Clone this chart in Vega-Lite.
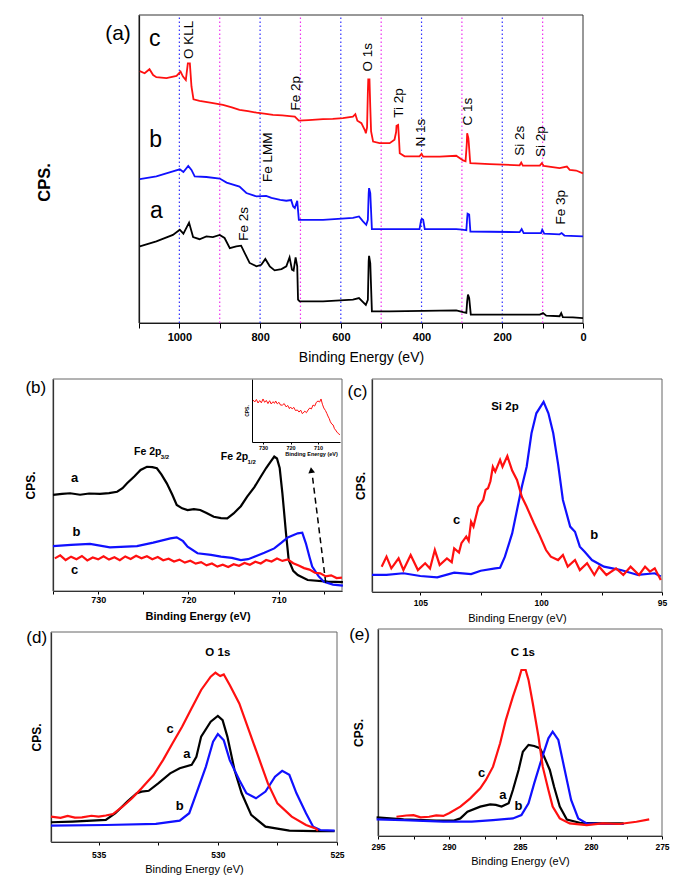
{
"$schema": "https://vega.github.io/schema/vega-lite/v6.json",
"width": 685,
"height": 877,
"autosize": {"type": "none"},
"padding": 0,
"background": "white",
"config": {
  "font": "Liberation Sans",
  "view": {"stroke": null},
  "axis": {"domainColor": "#000000", "tickColor": "#000000", "labelColor": "#000000", "titleColor": "#000000", "grid": false, "domainWidth": 1.2, "labelOverlap": false, "labelFlush": false}
},
"datasets": {
  "A": [
    {"s":"c","e":1098,"v":81.8},{"s":"c","e":1086,"v":81.1},{"s":"c","e":1074,"v":82.4},{"s":"c","e":1065,"v":80.5},{"s":"c","e":1057,"v":79.8},{"s":"c","e":1032,"v":79.5},{"s":"c","e":1007,"v":80.2},{"s":"c","e":997,"v":81.6},{"s":"c","e":991,"v":80.0},{"s":"c","e":984,"v":78.9},{"s":"c","e":979,"v":84.3},{"s":"c","e":974,"v":84.3},{"s":"c","e":970,"v":76.8},{"s":"c","e":965,"v":72.6},{"s":"c","e":950,"v":72.1},{"s":"c","e":920,"v":71.5},{"s":"c","e":892,"v":70.8},{"s":"c","e":870,"v":70.0},{"s":"c","e":851,"v":69.2},{"s":"c","e":830,"v":68.8},{"s":"c","e":809,"v":68.3},{"s":"c","e":790,"v":68.0},{"s":"c","e":768,"v":67.6},{"s":"c","e":745,"v":67.4},{"s":"c","e":727,"v":67.2},{"s":"c","e":714,"v":67.0},{"s":"c","e":704,"v":65.7},{"s":"c","e":680,"v":65.9},{"s":"c","e":644,"v":66.2},{"s":"c","e":620,"v":66.3},{"s":"c","e":595,"v":66.5},{"s":"c","e":570,"v":67.0},{"s":"c","e":564,"v":67.8},{"s":"c","e":559,"v":65.7},{"s":"c","e":549,"v":64.9},{"s":"c","e":540,"v":62.5},{"s":"c","e":538,"v":61.6},{"s":"c","e":535,"v":63.5},{"s":"c","e":533,"v":75.0},{"s":"c","e":532,"v":79.1},{"s":"c","e":529,"v":79.1},{"s":"c","e":527,"v":70.0},{"s":"c","e":525,"v":62.2},{"s":"c","e":520,"v":58.9},{"s":"c","e":504,"v":58.4},{"s":"c","e":479,"v":58.4},{"s":"c","e":467,"v":59.5},{"s":"c","e":463,"v":62.0},{"s":"c","e":462,"v":64.0},{"s":"c","e":458,"v":64.3},{"s":"c","e":456,"v":60.0},{"s":"c","e":454,"v":55.1},{"s":"c","e":442,"v":54.1},{"s":"c","e":405,"v":54.1},{"s":"c","e":400,"v":54.9},{"s":"c","e":396,"v":54.0},{"s":"c","e":355,"v":54.0},{"s":"c","e":314,"v":54.3},{"s":"c","e":297,"v":52.8},{"s":"c","e":291,"v":52.5},{"s":"c","e":288,"v":58.0},{"s":"c","e":287,"v":61.6},{"s":"c","e":284,"v":60.0},{"s":"c","e":283,"v":58.5},{"s":"c","e":280,"v":53.0},{"s":"c","e":279,"v":51.9},{"s":"c","e":231,"v":51.6},{"s":"c","e":157,"v":51.2},{"s":"c","e":153,"v":52.1},{"s":"c","e":149,"v":51.1},{"s":"c","e":107,"v":51.1},{"s":"c","e":102,"v":51.9},{"s":"c","e":97,"v":51.0},{"s":"c","e":58,"v":50.3},{"s":"c","e":40,"v":50.8},{"s":"c","e":33,"v":49.7},{"s":"c","e":17,"v":49.5},{"s":"c","e":0,"v":48.6},
    {"s":"b","e":1098,"v":46.7},{"s":"b","e":1057,"v":47.6},{"s":"b","e":1016,"v":49.2},{"s":"b","e":999,"v":49.9},{"s":"b","e":990,"v":49.0},{"s":"b","e":978,"v":51.0},{"s":"b","e":970,"v":49.7},{"s":"b","e":962,"v":47.6},{"s":"b","e":933,"v":47.4},{"s":"b","e":900,"v":46.9},{"s":"b","e":883,"v":45.6},{"s":"b","e":851,"v":44.3},{"s":"b","e":834,"v":42.2},{"s":"b","e":809,"v":41.1},{"s":"b","e":785,"v":41.3},{"s":"b","e":772,"v":40.6},{"s":"b","e":750,"v":40.0},{"s":"b","e":735,"v":39.7},{"s":"b","e":723,"v":39.9},{"s":"b","e":718,"v":37.8},{"s":"b","e":714,"v":37.3},{"s":"b","e":708,"v":39.7},{"s":"b","e":704,"v":33.5},{"s":"b","e":644,"v":33.5},{"s":"b","e":570,"v":34.1},{"s":"b","e":555,"v":34.6},{"s":"b","e":545,"v":33.0},{"s":"b","e":537,"v":31.9},{"s":"b","e":533,"v":33.5},{"s":"b","e":531,"v":42.0},{"s":"b","e":530,"v":43.8},{"s":"b","e":527,"v":42.2},{"s":"b","e":523,"v":30.5},{"s":"b","e":479,"v":30.5},{"s":"b","e":405,"v":30.5},{"s":"b","e":401,"v":33.5},{"s":"b","e":399,"v":33.8},{"s":"b","e":396,"v":33.5},{"s":"b","e":392,"v":30.5},{"s":"b","e":314,"v":30.5},{"s":"b","e":299,"v":30.3},{"s":"b","e":289,"v":30.1},{"s":"b","e":287,"v":34.0},{"s":"b","e":286,"v":35.5},{"s":"b","e":282,"v":35.2},{"s":"b","e":279,"v":29.7},{"s":"b","e":157,"v":29.5},{"s":"b","e":152,"v":30.5},{"s":"b","e":147,"v":29.2},{"s":"b","e":104,"v":29.2},{"s":"b","e":101,"v":30.3},{"s":"b","e":96,"v":29.0},{"s":"b","e":58,"v":28.8},{"s":"b","e":53,"v":29.2},{"s":"b","e":46,"v":28.4},{"s":"b","e":0,"v":28.1},
    {"s":"a","e":1098,"v":24.9},{"s":"a","e":1057,"v":26.5},{"s":"a","e":1016,"v":28.6},{"s":"a","e":999,"v":30.3},{"s":"a","e":990,"v":29.0},{"s":"a","e":976,"v":32.6},{"s":"a","e":966,"v":27.9},{"s":"a","e":950,"v":27.2},{"s":"a","e":933,"v":28.1},{"s":"a","e":917,"v":27.9},{"s":"a","e":900,"v":28.6},{"s":"a","e":888,"v":27.6},{"s":"a","e":875,"v":24.3},{"s":"a","e":859,"v":24.9},{"s":"a","e":847,"v":25.1},{"s":"a","e":838,"v":22.7},{"s":"a","e":826,"v":19.5},{"s":"a","e":809,"v":18.4},{"s":"a","e":797,"v":18.9},{"s":"a","e":787,"v":20.8},{"s":"a","e":776,"v":18.4},{"s":"a","e":764,"v":17.1},{"s":"a","e":747,"v":17.5},{"s":"a","e":735,"v":18.4},{"s":"a","e":727,"v":21.3},{"s":"a","e":721,"v":17.3},{"s":"a","e":717,"v":17.0},{"s":"a","e":712,"v":21.3},{"s":"a","e":708,"v":18.4},{"s":"a","e":706,"v":7.6},{"s":"a","e":702,"v":7.0},{"s":"a","e":644,"v":7.0},{"s":"a","e":570,"v":7.6},{"s":"a","e":555,"v":8.1},{"s":"a","e":538,"v":5.9},{"s":"a","e":533,"v":7.5},{"s":"a","e":531,"v":20.0},{"s":"a","e":530,"v":21.8},{"s":"a","e":527,"v":19.4},{"s":"a","e":523,"v":3.8},{"s":"a","e":479,"v":3.8},{"s":"a","e":314,"v":4.1},{"s":"a","e":297,"v":3.5},{"s":"a","e":289,"v":3.3},{"s":"a","e":287,"v":7.0},{"s":"a","e":285,"v":9.2},{"s":"a","e":282,"v":8.1},{"s":"a","e":278,"v":2.7},{"s":"a","e":107,"v":2.7},{"s":"a","e":99,"v":3.2},{"s":"a","e":91,"v":2.4},{"s":"a","e":58,"v":2.2},{"s":"a","e":54,"v":3.2},{"s":"a","e":50,"v":1.9},{"s":"a","e":25,"v":1.8},{"s":"a","e":0,"v":1.6}
  ],
  "B": [
    {"s":"a","e":735.0,"v":45.3},{"s":"a","e":734.0,"v":45.8},{"s":"a","e":733.1,"v":46.1},{"s":"a","e":732.0,"v":45.4},{"s":"a","e":731.0,"v":46.0},{"s":"a","e":729.8,"v":45.8},{"s":"a","e":728.8,"v":46.2},{"s":"a","e":727.9,"v":46.8},{"s":"a","e":727.3,"v":48.5},{"s":"a","e":726.8,"v":50.8},{"s":"a","e":726.0,"v":54.0},{"s":"a","e":725.3,"v":57.1},{"s":"a","e":724.6,"v":58.6},{"s":"a","e":724.0,"v":58.4},{"s":"a","e":723.5,"v":57.9},{"s":"a","e":723.0,"v":55.0},{"s":"a","e":722.4,"v":50.8},{"s":"a","e":721.8,"v":45.5},{"s":"a","e":721.3,"v":40.6},{"s":"a","e":720.7,"v":39.0},{"s":"a","e":720.1,"v":38.2},{"s":"a","e":719.4,"v":38.6},{"s":"a","e":718.7,"v":38.2},{"s":"a","e":718.0,"v":36.8},{"s":"a","e":717.2,"v":35.0},{"s":"a","e":716.4,"v":34.4},{"s":"a","e":715.7,"v":34.3},{"s":"a","e":715.0,"v":36.6},{"s":"a","e":714.2,"v":40.0},{"s":"a","e":713.5,"v":44.5},{"s":"a","e":712.7,"v":49.0},{"s":"a","e":712.0,"v":53.9},{"s":"a","e":711.4,"v":58.0},{"s":"a","e":710.9,"v":61.0},{"s":"a","e":710.5,"v":63.4},{"s":"a","e":710.2,"v":62.5},{"s":"a","e":709.9,"v":58.0},{"s":"a","e":709.6,"v":46.1},{"s":"a","e":709.2,"v":27.2},{"s":"a","e":708.9,"v":14.6},{"s":"a","e":708.4,"v":9.5},{"s":"a","e":707.9,"v":7.5},{"s":"a","e":706.8,"v":5.2},{"s":"a","e":704.6,"v":4.4},{"s":"a","e":702.9,"v":4.2},
    {"s":"b","e":735.0,"v":21.2},{"s":"b","e":733.0,"v":21.8},{"s":"b","e":730.9,"v":22.2},{"s":"b","e":728.7,"v":20.6},{"s":"b","e":725.7,"v":21.2},{"s":"b","e":723.9,"v":22.8},{"s":"b","e":722.0,"v":24.8},{"s":"b","e":721.3,"v":25.3},{"s":"b","e":720.6,"v":23.5},{"s":"b","e":720.1,"v":20.9},{"s":"b","e":719.0,"v":17.8},{"s":"b","e":717.5,"v":17.0},{"s":"b","e":716.4,"v":16.2},{"s":"b","e":715.2,"v":15.6},{"s":"b","e":714.2,"v":14.6},{"s":"b","e":713.4,"v":15.0},{"s":"b","e":712.7,"v":16.2},{"s":"b","e":711.6,"v":18.0},{"s":"b","e":710.5,"v":20.1},{"s":"b","e":709.7,"v":22.8},{"s":"b","e":709.0,"v":25.3},{"s":"b","e":707.9,"v":27.2},{"s":"b","e":707.4,"v":27.5},{"s":"b","e":707.0,"v":22.5},{"s":"b","e":706.6,"v":16.0},{"s":"b","e":706.3,"v":11.5},{"s":"b","e":705.6,"v":7.0},{"s":"b","e":705.0,"v":4.4},{"s":"b","e":704.0,"v":3.0},{"s":"b","e":702.9,"v":2.5},
    {"s":"c","e":734.8,"v":15.4},{"s":"c","e":734.2,"v":16.8},{"s":"c","e":733.6,"v":14.6},{"s":"c","e":733.0,"v":16.2},{"s":"c","e":732.4,"v":15.0},{"s":"c","e":731.8,"v":16.5},{"s":"c","e":731.2,"v":14.4},{"s":"c","e":730.6,"v":15.8},{"s":"c","e":730.0,"v":14.9},{"s":"c","e":729.4,"v":16.4},{"s":"c","e":728.8,"v":14.8},{"s":"c","e":728.2,"v":15.9},{"s":"c","e":727.6,"v":14.5},{"s":"c","e":727.0,"v":16.3},{"s":"c","e":726.4,"v":15.1},{"s":"c","e":725.8,"v":16.6},{"s":"c","e":725.2,"v":15.4},{"s":"c","e":724.6,"v":16.4},{"s":"c","e":724.0,"v":15.0},{"s":"c","e":723.4,"v":16.0},{"s":"c","e":722.8,"v":14.5},{"s":"c","e":722.2,"v":15.2},{"s":"c","e":721.6,"v":13.9},{"s":"c","e":721.0,"v":14.8},{"s":"c","e":720.4,"v":13.4},{"s":"c","e":719.8,"v":14.3},{"s":"c","e":719.2,"v":12.9},{"s":"c","e":718.6,"v":13.6},{"s":"c","e":718.0,"v":12.1},{"s":"c","e":717.4,"v":13.0},{"s":"c","e":716.8,"v":11.5},{"s":"c","e":716.2,"v":12.4},{"s":"c","e":715.6,"v":11.3},{"s":"c","e":715.0,"v":12.6},{"s":"c","e":714.4,"v":11.9},{"s":"c","e":713.8,"v":13.2},{"s":"c","e":713.2,"v":12.4},{"s":"c","e":712.6,"v":13.8},{"s":"c","e":712.0,"v":13.0},{"s":"c","e":711.4,"v":14.6},{"s":"c","e":710.8,"v":13.9},{"s":"c","e":710.2,"v":15.3},{"s":"c","e":709.6,"v":14.2},{"s":"c","e":709.0,"v":14.9},{"s":"c","e":708.4,"v":13.1},{"s":"c","e":707.8,"v":12.0},{"s":"c","e":707.2,"v":10.8},{"s":"c","e":706.6,"v":10.1},{"s":"c","e":706.0,"v":8.6},{"s":"c","e":705.4,"v":8.3},{"s":"c","e":704.8,"v":6.9},{"s":"c","e":704.2,"v":7.4},{"s":"c","e":703.6,"v":6.1},{"s":"c","e":703.0,"v":6.3}
  ],
  "Binset": [
    {"ie":733.6,"iv":66.7},{"ie":733.0,"iv":63.5},{"ie":732.4,"iv":67.5},{"ie":731.8,"iv":61.9},{"ie":731.2,"iv":65.8},{"ie":730.6,"iv":62.2},{"ie":730.0,"iv":68.3},{"ie":729.4,"iv":63.0},{"ie":728.8,"iv":66.0},{"ie":728.2,"iv":61.0},{"ie":727.6,"iv":65.5},{"ie":727.0,"iv":60.3},{"ie":726.4,"iv":64.0},{"ie":725.8,"iv":61.5},{"ie":725.4,"iv":65.1},{"ie":724.8,"iv":60.5},{"ie":724.2,"iv":63.0},{"ie":723.6,"iv":58.5},{"ie":722.9,"iv":58.7},{"ie":722.3,"iv":61.0},{"ie":721.6,"iv":55.8},{"ie":721.0,"iv":58.0},{"ie":720.4,"iv":53.0},{"ie":720.0,"iv":55.6},{"ie":719.4,"iv":52.5},{"ie":718.8,"iv":55.0},{"ie":718.2,"iv":50.0},{"ie":717.5,"iv":50.8},{"ie":716.9,"iv":47.5},{"ie":716.3,"iv":50.5},{"ie":715.7,"iv":45.0},{"ie":715.4,"iv":46.0},{"ie":714.8,"iv":49.0},{"ie":714.2,"iv":46.5},{"ie":713.6,"iv":50.8},{"ie":713.0,"iv":54.0},{"ie":712.4,"iv":52.5},{"ie":711.8,"iv":58.7},{"ie":711.2,"iv":57.0},{"ie":710.6,"iv":63.0},{"ie":710.0,"iv":65.1},{"ie":709.4,"iv":63.5},{"ie":708.9,"iv":68.3},{"ie":708.4,"iv":60.0},{"ie":707.9,"iv":54.0},{"ie":707.3,"iv":50.0},{"ie":706.8,"iv":45.5},{"ie":706.4,"iv":41.3},{"ie":705.9,"iv":37.0},{"ie":705.5,"iv":32.0},{"ie":705.0,"iv":28.6},{"ie":704.5,"iv":27.0},{"ie":704.0,"iv":21.0},{"ie":703.6,"iv":19.0},{"ie":703.0,"iv":15.0},{"ie":702.5,"iv":13.5},{"ie":702.1,"iv":11.1}
  ],
  "C": [
    {"s":"b","e":107.0,"v":8.0},{"s":"b","e":106.4,"v":8.0},{"s":"b","e":105.7,"v":8.8},{"s":"b","e":105.0,"v":7.5},{"s":"b","e":104.3,"v":6.9},{"s":"b","e":103.6,"v":9.1},{"s":"b","e":102.9,"v":8.4},{"s":"b","e":102.5,"v":10.0},{"s":"b","e":101.9,"v":11.1},{"s":"b","e":101.7,"v":11.4},{"s":"b","e":101.5,"v":16.6},{"s":"b","e":101.2,"v":27.5},{"s":"b","e":101.0,"v":38.5},{"s":"b","e":100.8,"v":49.4},{"s":"b","e":100.6,"v":58.8},{"s":"b","e":100.4,"v":74.5},{"s":"b","e":100.2,"v":83.9},{"s":"b","e":99.9,"v":89.3},{"s":"b","e":99.7,"v":83.9},{"s":"b","e":99.5,"v":74.5},{"s":"b","e":99.3,"v":60.0},{"s":"b","e":99.1,"v":43.2},{"s":"b","e":98.8,"v":30.7},{"s":"b","e":98.6,"v":28.3},{"s":"b","e":98.4,"v":21.3},{"s":"b","e":98.2,"v":18.9},{"s":"b","e":97.9,"v":15.0},{"s":"b","e":97.4,"v":11.9},{"s":"b","e":96.7,"v":10.3},{"s":"b","e":96.0,"v":8.0},{"s":"b","e":95.3,"v":8.8},{"s":"b","e":95.05,"v":7.3},
    {"s":"c","e":106.6,"v":11.9},{"s":"c","e":106.4,"v":16.6},{"s":"c","e":106.2,"v":11.1},{"s":"c","e":105.9,"v":15.8},{"s":"c","e":105.7,"v":10.3},{"s":"c","e":105.4,"v":17.4},{"s":"c","e":105.1,"v":10.3},{"s":"c","e":104.8,"v":13.5},{"s":"c","e":104.6,"v":11.0},{"s":"c","e":104.4,"v":19.7},{"s":"c","e":104.2,"v":12.7},{"s":"c","e":103.9,"v":15.8},{"s":"c","e":103.7,"v":14.0},{"s":"c","e":103.6,"v":20.5},{"s":"c","e":103.4,"v":18.5},{"s":"c","e":103.3,"v":22.9},{"s":"c","e":103.1,"v":26.0},{"s":"c","e":103.0,"v":24.0},{"s":"c","e":102.9,"v":33.0},{"s":"c","e":102.8,"v":30.7},{"s":"c","e":102.6,"v":40.0},{"s":"c","e":102.4,"v":43.2},{"s":"c","e":102.3,"v":47.9},{"s":"c","e":102.2,"v":48.7},{"s":"c","e":102.1,"v":52.0},{"s":"c","e":102.0,"v":58.8},{"s":"c","e":101.9,"v":56.5},{"s":"c","e":101.7,"v":62.0},{"s":"c","e":101.6,"v":58.8},{"s":"c","e":101.4,"v":63.8},{"s":"c","e":101.3,"v":60.4},{"s":"c","e":101.2,"v":57.0},{"s":"c","e":101.0,"v":52.6},{"s":"c","e":100.8,"v":44.7},{"s":"c","e":100.6,"v":40.0},{"s":"c","e":100.3,"v":32.3},{"s":"c","e":100.1,"v":27.5},{"s":"c","e":99.8,"v":19.7},{"s":"c","e":99.6,"v":16.6},{"s":"c","e":99.3,"v":15.0},{"s":"c","e":99.1,"v":17.4},{"s":"c","e":98.9,"v":11.9},{"s":"c","e":98.6,"v":15.0},{"s":"c","e":98.4,"v":10.3},{"s":"c","e":98.1,"v":13.5},{"s":"c","e":97.8,"v":8.0},{"s":"c","e":97.6,"v":11.9},{"s":"c","e":97.3,"v":8.0},{"s":"c","e":96.9,"v":11.1},{"s":"c","e":96.6,"v":8.0},{"s":"c","e":96.3,"v":11.9},{"s":"c","e":95.95,"v":8.0},{"s":"c","e":95.7,"v":11.9},{"s":"c","e":95.5,"v":9.6},{"s":"c","e":95.3,"v":11.1},{"s":"c","e":95.05,"v":5.6}
  ],
  "D": [
    {"s":"a","e":537.0,"v":9.4},{"s":"a","e":536.1,"v":9.7},{"s":"a","e":534.7,"v":10.5},{"s":"a","e":534.3,"v":13.7},{"s":"a","e":533.8,"v":19.2},{"s":"a","e":533.4,"v":23.2},{"s":"a","e":533.2,"v":24.0},{"s":"a","e":532.9,"v":24.4},{"s":"a","e":532.5,"v":27.9},{"s":"a","e":532.0,"v":32.7},{"s":"a","e":531.6,"v":35.1},{"s":"a","e":531.1,"v":36.7},{"s":"a","e":530.9,"v":40.6},{"s":"a","e":530.7,"v":50.2},{"s":"a","e":530.3,"v":57.3},{"s":"a","e":530.0,"v":60.0},{"s":"a","e":529.8,"v":58.0},{"s":"a","e":529.6,"v":50.2},{"s":"a","e":529.3,"v":34.3},{"s":"a","e":529.0,"v":23.2},{"s":"a","e":528.6,"v":12.9},{"s":"a","e":528.0,"v":7.3},{"s":"a","e":527.0,"v":5.4},{"s":"a","e":525.9,"v":5.2},{"s":"a","e":525.1,"v":5.2},
    {"s":"b","e":537.0,"v":7.8},{"s":"b","e":534.7,"v":8.1},{"s":"b","e":532.6,"v":8.6},{"s":"b","e":531.6,"v":10.2},{"s":"b","e":531.2,"v":13.7},{"s":"b","e":530.9,"v":23.2},{"s":"b","e":530.5,"v":35.9},{"s":"b","e":530.2,"v":47.8},{"s":"b","e":530.0,"v":51.4},{"s":"b","e":529.75,"v":48.4},{"s":"b","e":529.5,"v":39.0},{"s":"b","e":529.1,"v":29.5},{"s":"b","e":528.8,"v":23.2},{"s":"b","e":528.4,"v":20.8},{"s":"b","e":528.0,"v":24.0},{"s":"b","e":527.6,"v":31.1},{"s":"b","e":527.3,"v":33.9},{"s":"b","e":527.0,"v":32.0},{"s":"b","e":526.7,"v":23.2},{"s":"b","e":526.3,"v":13.7},{"s":"b","e":526.0,"v":7.3},{"s":"b","e":525.7,"v":5.7},{"s":"b","e":525.1,"v":5.4},
    {"s":"c","e":537.0,"v":12.1},{"s":"c","e":536.6,"v":11.5},{"s":"c","e":536.3,"v":12.4},{"s":"c","e":536.0,"v":11.6},{"s":"c","e":535.7,"v":11.7},{"s":"c","e":535.3,"v":12.5},{"s":"c","e":535.0,"v":12.1},{"s":"c","e":534.7,"v":12.6},{"s":"c","e":534.4,"v":13.3},{"s":"c","e":534.0,"v":16.8},{"s":"c","e":533.6,"v":20.8},{"s":"c","e":533.2,"v":25.6},{"s":"c","e":532.7,"v":31.9},{"s":"c","e":532.3,"v":39.0},{"s":"c","e":531.9,"v":47.0},{"s":"c","e":531.5,"v":54.9},{"s":"c","e":531.1,"v":63.7},{"s":"c","e":530.7,"v":72.4},{"s":"c","e":530.3,"v":78.7},{"s":"c","e":530.1,"v":80.6},{"s":"c","e":529.9,"v":79.0},{"s":"c","e":529.75,"v":79.8},{"s":"c","e":529.5,"v":74.8},{"s":"c","e":529.1,"v":66.0},{"s":"c","e":528.7,"v":53.3},{"s":"c","e":528.3,"v":40.6},{"s":"c","e":527.9,"v":27.9},{"s":"c","e":527.5,"v":18.4},{"s":"c","e":526.9,"v":12.1},{"s":"c","e":526.3,"v":8.1},{"s":"c","e":525.9,"v":6.5},{"s":"c","e":525.8,"v":5.4}
  ],
  "E": [
    {"s":"a","e":295.1,"v":9.0},{"s":"a","e":293.2,"v":8.0},{"s":"a","e":290.9,"v":7.4},{"s":"a","e":289.7,"v":7.4},{"s":"a","e":289.2,"v":8.5},{"s":"a","e":288.7,"v":11.7},{"s":"a","e":287.8,"v":14.2},{"s":"a","e":287.1,"v":15.3},{"s":"a","e":286.7,"v":15.0},{"s":"a","e":286.3,"v":14.2},{"s":"a","e":285.8,"v":15.8},{"s":"a","e":285.5,"v":22.2},{"s":"a","e":285.1,"v":31.9},{"s":"a","e":284.8,"v":40.7},{"s":"a","e":284.4,"v":44.0},{"s":"a","e":284.0,"v":43.5},{"s":"a","e":283.6,"v":42.4},{"s":"a","e":283.3,"v":38.3},{"s":"a","e":282.9,"v":31.9},{"s":"a","e":282.6,"v":23.8},{"s":"a","e":282.2,"v":14.2},{"s":"a","e":281.7,"v":8.0},{"s":"a","e":280.8,"v":6.4},{"s":"a","e":279.2,"v":6.1},{"s":"a","e":277.7,"v":6.1},
    {"s":"b","e":295.1,"v":8.0},{"s":"b","e":293.2,"v":7.7},{"s":"b","e":290.4,"v":6.9},{"s":"b","e":288.4,"v":6.9},{"s":"b","e":286.9,"v":7.7},{"s":"b","e":285.5,"v":8.5},{"s":"b","e":284.9,"v":10.1},{"s":"b","e":284.4,"v":15.8},{"s":"b","e":284.0,"v":25.4},{"s":"b","e":283.5,"v":36.7},{"s":"b","e":283.0,"v":47.2},{"s":"b","e":282.7,"v":50.4},{"s":"b","e":282.3,"v":46.4},{"s":"b","e":281.9,"v":33.5},{"s":"b","e":281.4,"v":17.4},{"s":"b","e":280.9,"v":8.5},{"s":"b","e":280.3,"v":6.1},{"s":"b","e":278.9,"v":5.8},{"s":"b","e":277.7,"v":5.8},
    {"s":"c","e":293.7,"v":9.3},{"s":"c","e":293.0,"v":9.9},{"s":"c","e":292.5,"v":10.1},{"s":"c","e":292.0,"v":9.0},{"s":"c","e":291.4,"v":9.3},{"s":"c","e":290.9,"v":10.0},{"s":"c","e":290.4,"v":9.7},{"s":"c","e":290.0,"v":11.0},{"s":"c","e":289.2,"v":14.2},{"s":"c","e":288.5,"v":18.2},{"s":"c","e":287.8,"v":23.0},{"s":"c","e":287.4,"v":27.1},{"s":"c","e":286.9,"v":33.5},{"s":"c","e":286.4,"v":44.8},{"s":"c","e":286.0,"v":56.0},{"s":"c","e":285.5,"v":67.3},{"s":"c","e":285.1,"v":75.4},{"s":"c","e":284.9,"v":80.2},{"s":"c","e":284.6,"v":80.2},{"s":"c","e":284.4,"v":75.4},{"s":"c","e":284.1,"v":64.1},{"s":"c","e":283.7,"v":48.0},{"s":"c","e":283.4,"v":33.5},{"s":"c","e":283.0,"v":22.2},{"s":"c","e":282.7,"v":14.2},{"s":"c","e":282.2,"v":8.5},{"s":"c","e":281.5,"v":6.1},{"s":"c","e":280.3,"v":5.3},{"s":"c","e":279.2,"v":6.1},{"s":"c","e":278.0,"v":5.8},{"s":"c","e":276.8,"v":6.9},{"s":"c","e":275.9,"v":8.0}
  ]
},
"resolve": {"scale": {"x": "independent", "y": "independent"}},
"layer": [
  {
    "encoding": {
      "x": {"field": "e", "type": "quantitative",
            "scale": {"domain": [0, 1100], "reverse": true, "range": [139, 583], "nice": false, "zero": false},
            "axis": {"orient": "bottom", "offset": -554, "title": "Binding Energy (eV)", "values": [0,100,200,300,400,500,600,700,800,900,1000,1100], "format": "d", "labelExpr": "datum.value % 200 == 0 && datum.value < 1100 ? datum.label : ''", "labelFontWeight": "bold", "labelFontSize": 11, "titleFontSize": 14, "titleFontWeight": "normal", "tickSize": 5, "labelPadding": 3, "titlePadding": 8}},
      "y": {"field": "v", "type": "quantitative",
            "scale": {"domain": [0, 100], "range": [323, 15], "nice": false, "zero": false},
            "axis": {"orient": "left", "offset": -139, "title": "CPS.", "ticks": false, "labels": false, "titleFontSize": 16.5, "titleFontWeight": "bold", "titlePadding": 87, "titleY": 182}}
    },
    "layer": [
      {"data": {"values": [{"x0": 0, "x1": 1100, "y0": 0, "y1": 100}]}, "mark": {"type": "rect", "filled": false, "color": "#333333", "strokeWidth": 1},
       "encoding": {"x": {"field": "x0"}, "x2": {"field": "x1"}, "y": {"field": "y0"}, "y2": {"field": "y1"}}},
      {"data": {"values": [{"e":1000,"lo":0,"hi":100},{"e":800,"lo":0,"hi":100},{"e":600,"lo":0,"hi":100},{"e":400,"lo":0,"hi":100},{"e":200,"lo":0,"hi":100}]}, "mark": {"type": "rule", "color": "#3030ff", "strokeDash": [1.5, 2.5], "strokeWidth": 1.2}, "encoding": {"y": {"field": "lo"}, "y2": {"field": "hi"}}},
      {"data": {"values": [{"e":900,"lo":0,"hi":100},{"e":700,"lo":0,"hi":100},{"e":500,"lo":0,"hi":100},{"e":300,"lo":0,"hi":100},{"e":100,"lo":0,"hi":100}]}, "mark": {"type": "rule", "color": "#ee30ee", "strokeDash": [1.5, 2.5], "strokeWidth": 1.2}, "encoding": {"y": {"field": "lo"}, "y2": {"field": "hi"}}},
      {"data": {"name": "A"}, "mark": {"type": "line", "strokeWidth": 1.8},
       "encoding": {"color": {"field": "s", "type": "nominal", "scale": {"domain": ["a","b","c"], "range": ["#000000","#1010ff","#ff1010"]}, "legend": null}}},
      {"data": {"values": [
          {"e":976,"v":91.9,"t":"O KLL"},{"e":710,"v":74.6,"t":"Fe 2p"},{"e":533,"v":86.3,"t":"O 1s"},{"e":455,"v":71.4,"t":"Ti 2p"},{"e":401,"v":61.8,"t":"N 1s"},{"e":285,"v":68.6,"t":"C 1s"},{"e":157,"v":59.2,"t":"Si 2s"},{"e":103,"v":58.9,"t":"Si 2p"},{"e":780,"v":53.8,"t":"Fe LMM"},{"e":841,"v":32.2,"t":"Fe 2s"},{"e":54,"v":37.6,"t":"Fe 3p"}]},
       "mark": {"type": "text", "angle": 270, "fontSize": 13.5, "align": "center", "baseline": "middle", "color": "#000000"},
       "encoding": {"text": {"field": "t"}}},
      {"data": {"values": [{"e":1061,"v":92.1,"t":"c"},{"e":1059,"v":59.5,"t":"b"},{"e":1057,"v":36.5,"t":"a"}]},
       "mark": {"type": "text", "fontSize": 23, "align": "center", "baseline": "middle", "color": "#000000"},
       "encoding": {"text": {"field": "t"}}},
      {"data": {"values": [{"e":1152,"v":93.8,"t":"(a)"}]},
       "mark": {"type": "text", "fontSize": 21, "align": "center", "baseline": "middle", "color": "#000000"},
       "encoding": {"text": {"field": "t"}}}
    ]
  },
  {
    "encoding": {
      "x": {"field": "e", "type": "quantitative",
            "scale": {"domain": [703, 735], "reverse": true, "range": [53, 342], "nice": false, "zero": false},
            "axis": {"orient": "bottom", "offset": -286, "title": "Binding Energy (eV)", "values": [705,710,715,720,725,730,735], "labelExpr": "datum.value % 10 == 0 ? datum.label : ''", "labelFontWeight": "bold", "labelFontSize": 9, "titleFontSize": 11, "titleFontWeight": "bold", "tickSize": 3, "labelPadding": 1, "titlePadding": 6}},
      "y": {"field": "v", "type": "quantitative",
            "scale": {"domain": [0, 100], "range": [591, 379], "nice": false, "zero": false},
            "axis": {"orient": "left", "offset": -53, "title": "CPS.", "ticks": false, "labels": false, "titleFontSize": 12, "titleFontWeight": "bold", "titlePadding": 16}}
    },
    "layer": [
      {"data": {"values": [{"x0": 703, "x1": 735, "y0": 0, "y1": 100}]}, "mark": {"type": "rect", "filled": false, "color": "#666666", "strokeWidth": 1},
       "encoding": {"x": {"field": "x0"}, "x2": {"field": "x1"}, "y": {"field": "y0"}, "y2": {"field": "y1"}}},
      {"data": {"name": "B"}, "mark": {"type": "line", "strokeWidth": 2.2},
       "encoding": {"color": {"field": "s", "type": "nominal", "scale": {"domain": ["a","b","c"], "range": ["#000000","#1010ff","#ff1010"]}, "legend": null}}},
      {"data": {"values": [{"e":732.6,"v":53.3,"t":"a"},{"e":732.4,"v":28.0,"t":"b"},{"e":732.6,"v":9.9,"t":"c"}]},
       "mark": {"type": "text", "fontSize": 13, "fontWeight": "bold", "align": "center", "baseline": "middle"},
       "encoding": {"text": {"field": "t"}}},
      {"data": {"values": [{"e":724.5,"v":65.6,"t":"Fe 2p"},{"e":714.9,"v":63.4,"t":"Fe 2p"}]},
       "mark": {"type": "text", "fontSize": 10.5, "fontWeight": "bold", "align": "center", "baseline": "middle"},
       "encoding": {"text": {"field": "t"}}},
      {"data": {"values": [{"e":722.6,"v":63.2,"t":"3/2"},{"e":713.0,"v":61.0,"t":"1/2"}]},
       "mark": {"type": "text", "fontSize": 6, "fontWeight": "bold", "align": "center", "baseline": "middle"},
       "encoding": {"text": {"field": "t"}}},
      {"data": {"values": [{"t":"(b)","e":736.9,"v":95.8}]},
       "mark": {"type": "text", "fontSize": 17, "align": "center", "baseline": "middle"},
       "encoding": {"text": {"field": "t"}}},
      {"data": {"values": [{"x0": 704.8, "y0": 3.8, "x1": 706.3, "y1": 55.0}]}, "mark": {"type": "rule", "strokeDash": [6, 4], "strokeWidth": 1.5, "color": "#000000"},
       "encoding": {"x": {"field": "x0"}, "y": {"field": "y0"}, "x2": {"field": "x1"}, "y2": {"field": "y1"}}},
      {"data": {"values": [{"xa": 706.4, "ya": 57.0}]}, "mark": {"type": "point", "shape": "triangle-up", "filled": true, "color": "#000000", "size": 45, "angle": -8, "opacity": 1},
       "encoding": {"x": {"field": "xa"}, "y": {"field": "ya"}}}
    ]
  },
  {
    "encoding": {
      "x": {"field": "ie", "type": "quantitative",
            "scale": {"domain": [702, 734], "reverse": true, "range": [252, 340], "nice": false, "zero": false},
            "axis": {"orient": "bottom", "offset": -435, "title": "Binding Energy (eV)", "titleX": 311, "values": [710, 720, 730], "labelFontWeight": "bold", "labelFontSize": 5.5, "titleFontSize": 5.5, "titleFontWeight": "bold", "tickSize": 2, "labelPadding": 1, "titlePadding": 1, "domainWidth": 1}},
      "y": {"field": "iv", "type": "quantitative",
            "scale": {"domain": [0, 100], "range": [442, 379], "nice": false, "zero": false},
            "axis": {"orient": "left", "offset": -252, "title": "CPS.", "ticks": false, "labels": false, "titleFontSize": 5, "titleFontWeight": "bold", "titlePadding": 3, "domainWidth": 1}}
    },
    "layer": [
      {"data": {"name": "Binset"}, "mark": {"type": "line", "color": "#ff1010", "strokeWidth": 1}}
    ]
  },
  {
    "encoding": {
      "x": {"field": "e", "type": "quantitative",
            "scale": {"domain": [95, 107], "reverse": true, "range": [372, 662], "nice": false, "zero": false},
            "axis": {"orient": "bottom", "offset": -285, "title": "Binding Energy (eV)", "values": [95, 97.5, 100, 102.5, 105], "labelExpr": "datum.value % 5 == 0 ? datum.label : ''", "labelFontWeight": "bold", "labelFontSize": 8.5, "titleFontSize": 11, "titleFontWeight": "normal", "tickSize": 3, "labelPadding": 3, "titlePadding": 6}},
      "y": {"field": "v", "type": "quantitative",
            "scale": {"domain": [0, 100], "range": [592, 379], "nice": false, "zero": false},
            "axis": {"orient": "left", "offset": -372, "title": "CPS.", "ticks": false, "labels": false, "titleFontSize": 12, "titleFontWeight": "bold", "titlePadding": 5}}
    },
    "layer": [
      {"data": {"values": [{"x0": 95, "x1": 107, "y0": 0, "y1": 100}]}, "mark": {"type": "rect", "filled": false, "color": "#666666", "strokeWidth": 1},
       "encoding": {"x": {"field": "x0"}, "x2": {"field": "x1"}, "y": {"field": "y0"}, "y2": {"field": "y1"}}},
      {"data": {"name": "C"}, "mark": {"type": "line", "strokeWidth": 2.2},
       "encoding": {"color": {"field": "s", "type": "nominal", "scale": {"domain": ["a","b","c"], "range": ["#000000","#1010ff","#ff1010"]}, "legend": null}}},
      {"data": {"values": [{"e":101.5,"v":87.0,"t":"Si 2p"}]},
       "mark": {"type": "text", "fontSize": 11.5, "fontWeight": "bold", "align": "center", "baseline": "middle"},
       "encoding": {"text": {"field": "t"}}},
      {"data": {"values": [{"e":103.5,"v":33.8,"t":"c"},{"e":97.8,"v":26.8,"t":"b"}]},
       "mark": {"type": "text", "fontSize": 13, "fontWeight": "bold", "align": "center", "baseline": "middle"},
       "encoding": {"text": {"field": "t"}}},
      {"data": {"values": [{"e":107.6,"v":93.9,"t":"(c)"}]},
       "mark": {"type": "text", "fontSize": 17, "align": "center", "baseline": "middle"},
       "encoding": {"text": {"field": "t"}}}
    ]
  },
  {
    "encoding": {
      "x": {"field": "e", "type": "quantitative",
            "scale": {"domain": [525, 537], "reverse": true, "range": [51, 337], "nice": false, "zero": false},
            "axis": {"orient": "bottom", "offset": -35, "title": "Binding Energy (eV)", "values": [525, 527.5, 530, 532.5, 535], "labelExpr": "datum.value % 5 == 0 ? datum.label : ''", "labelFontWeight": "bold", "labelFontSize": 8.5, "titleFontSize": 11, "titleFontWeight": "normal", "tickSize": 3, "labelPadding": 5, "titlePadding": 5}},
      "y": {"field": "v", "type": "quantitative",
            "scale": {"domain": [0, 100], "range": [842, 632], "nice": false, "zero": false},
            "axis": {"orient": "left", "offset": -51, "title": "CPS.", "ticks": false, "labels": false, "titleFontSize": 12, "titleFontWeight": "bold", "titlePadding": 8}}
    },
    "layer": [
      {"data": {"values": [{"x0": 525, "x1": 537, "y0": 0, "y1": 100}]}, "mark": {"type": "rect", "filled": false, "color": "#666666", "strokeWidth": 1},
       "encoding": {"x": {"field": "x0"}, "x2": {"field": "x1"}, "y": {"field": "y0"}, "y2": {"field": "y1"}}},
      {"data": {"name": "D"}, "mark": {"type": "line", "strokeWidth": 2.2},
       "encoding": {"color": {"field": "s", "type": "nominal", "scale": {"domain": ["a","b","c"], "range": ["#000000","#1010ff","#ff1010"]}, "legend": null}}},
      {"data": {"values": [{"e":530.0,"v":90.0,"t":"O 1s"}]},
       "mark": {"type": "text", "fontSize": 11.5, "fontWeight": "bold", "align": "center", "baseline": "middle"},
       "encoding": {"text": {"field": "t"}}},
      {"data": {"values": [{"e":532.0,"v":53.7,"t":"c"},{"e":531.3,"v":41.8,"t":"a"},{"e":531.6,"v":17.3,"t":"b"}]},
       "mark": {"type": "text", "fontSize": 13, "fontWeight": "bold", "align": "center", "baseline": "middle"},
       "encoding": {"text": {"field": "t"}}},
      {"data": {"values": [{"e":537.6,"v":97.1,"t":"(d)"}]},
       "mark": {"type": "text", "fontSize": 17, "align": "center", "baseline": "middle"},
       "encoding": {"text": {"field": "t"}}}
    ]
  },
  {
    "encoding": {
      "x": {"field": "e", "type": "quantitative",
            "scale": {"domain": [275, 295], "reverse": true, "range": [378, 662], "nice": false, "zero": false},
            "axis": {"orient": "bottom", "offset": -41, "title": "Binding Energy (eV)", "values": [275, 277.5, 280, 282.5, 285, 287.5, 290, 292.5, 295], "labelExpr": "datum.value % 5 == 0 ? datum.label : ''", "labelFontWeight": "bold", "labelFontSize": 8.5, "titleFontSize": 11, "titleFontWeight": "normal", "tickSize": 3, "labelPadding": 3, "titlePadding": 5}},
      "y": {"field": "v", "type": "quantitative",
            "scale": {"domain": [0, 100], "range": [836, 629], "nice": false, "zero": false},
            "axis": {"orient": "left", "offset": -378, "title": "CPS.", "ticks": false, "labels": false, "titleFontSize": 12, "titleFontWeight": "bold", "titlePadding": 13}}
    },
    "layer": [
      {"data": {"values": [{"x0": 275, "x1": 295, "y0": 0, "y1": 100}]}, "mark": {"type": "rect", "filled": false, "color": "#666666", "strokeWidth": 1},
       "encoding": {"x": {"field": "x0"}, "x2": {"field": "x1"}, "y": {"field": "y0"}, "y2": {"field": "y1"}}},
      {"data": {"name": "E"}, "mark": {"type": "line", "strokeWidth": 2.2},
       "encoding": {"color": {"field": "s", "type": "nominal", "scale": {"domain": ["a","b","c"], "range": ["#000000","#1010ff","#ff1010"]}, "legend": null}}},
      {"data": {"values": [{"e":284.8,"v":88.4,"t":"C 1s"}]},
       "mark": {"type": "text", "fontSize": 11.5, "fontWeight": "bold", "align": "center", "baseline": "middle"},
       "encoding": {"text": {"field": "t"}}},
      {"data": {"values": [{"e":287.7,"v":30.3,"t":"c"},{"e":286.2,"v":19.8,"t":"a"},{"e":285.1,"v":14.6,"t":"b"}]},
       "mark": {"type": "text", "fontSize": 13, "fontWeight": "bold", "align": "center", "baseline": "middle"},
       "encoding": {"text": {"field": "t"}}},
      {"data": {"values": [{"e":296.3,"v":97.1,"t":"(e)"}]},
       "mark": {"type": "text", "fontSize": 17, "align": "center", "baseline": "middle"},
       "encoding": {"text": {"field": "t"}}}
    ]
  }
]
}
